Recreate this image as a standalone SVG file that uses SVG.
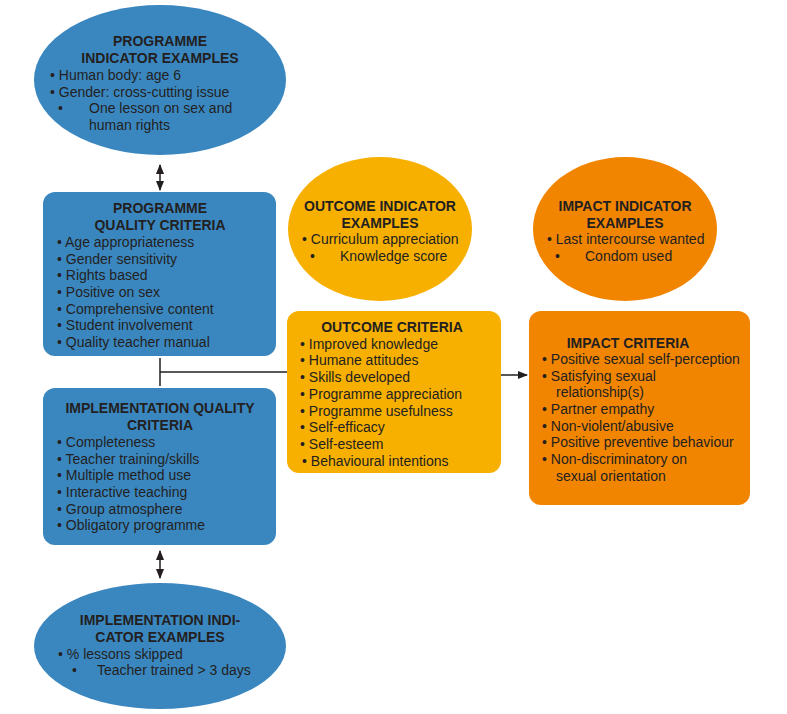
<svg xmlns="http://www.w3.org/2000/svg" width="787" height="714" viewBox="0 0 787 714">
<style>
text{font-family:"Liberation Sans",Arial,sans-serif;font-size:14px;fill:#231f20}
.h{font-weight:bold;text-anchor:middle}
.b{fill:#3a87c0}.y{fill:#f8b000}.o{fill:#f28500}
.c{stroke:#231f20;stroke-width:1.5;fill:none}
</style>
<defs><marker id="a" viewBox="0 0 10 10" refX="9" refY="5" markerWidth="7" markerHeight="7" orient="auto-start-reverse"><path d="M0,1 L10,5 L0,9 z" fill="#231f20"/></marker></defs>
<rect width="787" height="714" fill="#fff"/>
<g id="connectors">
<line class="c" x1="160" y1="165" x2="160" y2="190" marker-start="url(#a)" marker-end="url(#a)"/>
<line class="c" x1="160" y1="551" x2="160" y2="578" marker-start="url(#a)" marker-end="url(#a)"/>
<line class="c" x1="160" y1="358" x2="160" y2="386"/>
<line class="c" x1="160" y1="372" x2="287" y2="372"/>
<line class="c" x1="501" y1="375" x2="527" y2="375" marker-end="url(#a)"/>
</g>
<g id="prog-ind"><ellipse class="b" cx="160" cy="80" rx="126" ry="75"/>
<text class="h" x="160" y="46">PROGRAMME</text><text class="h" x="160" y="63">INDICATOR EXAMPLES</text>
<text x="50" y="80">• Human body: age 6</text><text x="50" y="97">• Gender: cross-cutting issue</text>
<text x="58" y="113">•</text><text x="89" y="113">One lesson on sex and</text><text x="89" y="130">human rights</text></g>
<g id="prog-qc"><rect class="b" x="43" y="192" width="233" height="164" rx="12"/>
<text class="h" x="160" y="213">PROGRAMME</text><text class="h" x="160" y="230">QUALITY CRITERIA</text>
<text x="57" y="247">•  Age appropriateness</text><text x="57" y="264">•  Gender sensitivity</text><text x="57" y="280">•  Rights based</text><text x="57" y="297">•  Positive on sex</text><text x="57" y="314">•  Comprehensive content</text><text x="57" y="330">•  Student involvement</text><text x="57" y="347">•  Quality teacher manual</text></g>
<g id="impl-qc"><rect class="b" x="43" y="388" width="233" height="157" rx="12"/>
<text class="h" x="160" y="413">IMPLEMENTATION QUALITY</text><text class="h" x="160" y="430">CRITERIA</text>
<text x="57" y="447">•  Completeness</text><text x="57" y="464">•  Teacher training/skills</text><text x="57" y="480">•  Multiple method use</text><text x="57" y="497">•  Interactive teaching</text><text x="57" y="514">•  Group atmosphere</text><text x="57" y="530">•  Obligatory programme</text></g>
<g id="impl-ind"><ellipse class="b" cx="160" cy="646" rx="126" ry="63"/>
<text class="h" x="160" y="625">IMPLEMENTATION INDI-</text><text class="h" x="160" y="642">CATOR EXAMPLES</text>
<text x="58" y="659">• % lessons skipped</text><text x="72" y="675">•</text><text x="97" y="675">Teacher trained &gt; 3 days</text></g>
<g id="out-ind"><ellipse class="y" cx="380" cy="229" rx="92" ry="72"/>
<text class="h" x="380" y="211">OUTCOME INDICATOR</text><text class="h" x="380" y="228">EXAMPLES</text>
<text x="302" y="244">• Curriculum appreciation</text><text x="310" y="261">•</text><text x="340" y="261">Knowledge score</text></g>
<g id="imp-ind"><ellipse class="o" cx="625" cy="229" rx="92" ry="72"/>
<text class="h" x="625" y="211">IMPACT INDICATOR</text><text class="h" x="625" y="228">EXAMPLES</text>
<text x="547" y="244">• Last intercourse wanted</text><text x="555" y="261">•</text><text x="585" y="261">Condom used</text></g>
<g id="out-c"><rect class="y" x="287" y="311" width="214" height="162" rx="12"/>
<text class="h" x="392" y="332">OUTCOME CRITERIA</text>
<text x="300" y="349">•  Improved knowledge</text><text x="300" y="365">•  Humane attitudes</text><text x="300" y="382">•  Skills developed</text><text x="300" y="399">•  Programme appreciation</text><text x="300" y="416">•  Programme usefulness</text><text x="300" y="432">•  Self-efficacy</text><text x="300" y="449">•  Self-esteem</text><text x="302" y="466">•  Behavioural intentions</text></g>
<g id="imp-c"><rect class="o" x="529" y="311" width="221" height="194" rx="12"/>
<text class="h" x="628" y="348">IMPACT CRITERIA</text>
<text x="542" y="364">•  Positive sexual self-perception</text><text x="542" y="381">•  Satisfying sexual</text><text x="556" y="397">relationship(s)</text><text x="542" y="414">•  Partner empathy</text><text x="542" y="431">•  Non-violent/abusive</text><text x="542" y="447">•  Positive preventive behaviour</text><text x="542" y="464">•  Non-discriminatory on</text><text x="556" y="481">sexual orientation</text></g>
</svg>
